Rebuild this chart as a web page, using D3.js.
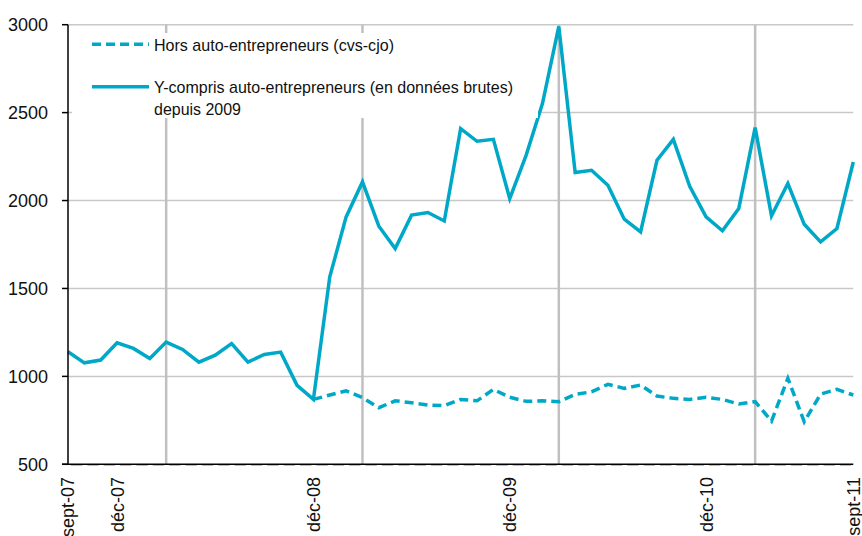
<!DOCTYPE html>
<html>
<head>
<meta charset="utf-8">
<script src="https://cdn.jsdelivr.net/npm/d3@7"></script>
<style>
  body { margin: 0; background: #fff; }
  svg { display: block; font-family: "Liberation Sans", Arial, sans-serif; }
</style>
</head>
<body>
<div id="chart"></div>
<script>
// month labels, sept-07 .. sept-11
const monthNames = ["janv", "févr", "mars", "avr", "mai", "juin", "juil", "août", "sept", "oct", "nov", "déc"]
let months = []
for (let k = 8; k <= 8 + 48; k++) {
    months.push(monthNames[k % 12] + "-" + String(7 + Math.floor(k / 12)).padStart(2, "0"))
}

const shownLabels = ["sept-07", "déc-07", "déc-08", "déc-09", "déc-10", "sept-11"]
const gridMonths = ["mars-08", "mars-09", "mars-10", "mars-11"]
const yTicks = [500, 1000, 1500, 2000, 2500, 3000]

// Y-compris auto-entrepreneurs (en données brutes) depuis 2009
const ycompris = [1140, 1077, 1093, 1191, 1159, 1102, 1195, 1153, 1081, 1121, 1187, 1081,
    1125, 1138, 949, 869, 1566, 1907, 2106, 1854, 1727, 1917, 1932, 1884,
    2409, 2337, 2348, 2011, 2257, 2551, 2990, 2159, 2172, 2087, 1894, 1822,
    2229, 2348, 2081, 1907, 1828, 1955, 2415, 1913, 2097, 1865, 1765, 1841, 2219]

// Hors auto-entrepreneurs (cvs-cjo), visible from déc-08
const hors = [null, null, null, null, null, null, null, null, null, null, null, null,
    null, null, null, 869, 894, 918, 879, 822, 861, 850, 837, 833,
    869, 861, 926, 881, 858, 861, 856, 898, 912, 955, 932, 951,
    888, 875, 869, 881, 869, 843, 856, 746, 989, 742, 899, 926, 894]

const legendItems = ["Hors auto-entrepreneurs (cvs-cjo)", "Y-compris auto-entrepreneurs (en données brutes)", "depuis 2009"]

const W = 862, H = 536
const lineColor = "#00a8c8"

let svg = d3.select("#chart").append("svg")
    .attr("width", W)
    .attr("height", H)

let x = d3.scalePoint().domain(months).range([68, 853.3])
let y = d3.scaleLinear().domain([500, 3000]).range([464.3, 24.7])

// horizontal gridlines
svg.selectAll("line.hgrid")
    .data(yTicks.filter(d => d > 500))
    .enter()
    .append("line")
    .attr("class", "hgrid")
    .attr("x1", x.range()[0]).attr("x2", x.range()[1])
    .attr("y1", d => y(d)).attr("y2", d => y(d))
    .attr("stroke", "#c8c8c8")
    .attr("stroke-width", 1.5)

// vertical gridlines
svg.selectAll("line.vgrid")
    .data(gridMonths)
    .enter()
    .append("line")
    .attr("class", "vgrid")
    .attr("x1", d => x(d)).attr("x2", d => x(d))
    .attr("y1", y(3000)).attr("y2", y(500))
    .attr("stroke", "#c0c0c0")
    .attr("stroke-width", 2.5)

// lines
let line = d3.line()
    .defined(d => d[1] != null)
    .x(d => x(d[0]))
    .y(d => y(d[1]))

svg.append("path")
    .datum(months.map((m, i) => [m, hors[i]]))
    .attr("d", line)
    .attr("fill", "none")
    .attr("stroke", lineColor)
    .attr("stroke-width", 3.5)
    .attr("stroke-dasharray", "9,5")

svg.append("path")
    .datum(months.map((m, i) => [m, ycompris[i]]))
    .attr("d", line)
    .attr("fill", "none")
    .attr("stroke", lineColor)
    .attr("stroke-width", 3.5)
    .attr("stroke-linejoin", "miter")

// legend box (white, sits over the plot)
svg.append("rect")
    .attr("x", 72).attr("y", 33)
    .attr("width", 466).attr("height", 85)
    .attr("fill", "#fff")

svg.append("line")
    .attr("x1", 92).attr("x2", 149).attr("y1", 44.3).attr("y2", 44.3)
    .attr("stroke", lineColor).attr("stroke-width", 3.5)
    .attr("stroke-dasharray", "9,5")
svg.append("line")
    .attr("x1", 92).attr("x2", 149).attr("y1", 86.7).attr("y2", 86.7)
    .attr("stroke", lineColor).attr("stroke-width", 3.5)

let legendPos = [[50.5, 240], [93, 359], [115, 87]]
svg.selectAll("text.legend")
    .data(legendItems)
    .enter()
    .append("text")
    .attr("class", "legend")
    .attr("x", 154)
    .attr("y", (d, i) => legendPos[i][0])
    .attr("textLength", (d, i) => legendPos[i][1])
    .attr("lengthAdjust", "spacingAndGlyphs")
    .attr("font-size", 17)
    .attr("fill", "#111")
    .text(d => d)

// x axis month ticks (light)
svg.selectAll("line.mtick")
    .data(months.slice(1))
    .enter()
    .append("line")
    .attr("class", "mtick")
    .attr("x1", d => x(d) - x.step() + 3).attr("x2", d => x(d) - 2)
    .attr("y1", 465.5).attr("y2", 465.5)
    .attr("stroke", "#bbb")
    .attr("stroke-width", 1)

// axes
svg.append("line")
    .attr("x1", 68).attr("x2", 68)
    .attr("y1", y(3000)).attr("y2", y(500))
    .attr("stroke", "#000").attr("stroke-width", 1.5)
svg.append("line")
    .attr("x1", 62).attr("x2", x.range()[1])
    .attr("y1", y(500)).attr("y2", y(500))
    .attr("stroke", "#000").attr("stroke-width", 1.5)

svg.selectAll("line.ytick")
    .data(yTicks)
    .enter()
    .append("line")
    .attr("class", "ytick")
    .attr("x1", 62).attr("x2", 68)
    .attr("y1", d => y(d)).attr("y2", d => y(d))
    .attr("stroke", "#000").attr("stroke-width", 1.5)

svg.selectAll("text.ylabel")
    .data(yTicks)
    .enter()
    .append("text")
    .attr("class", "ylabel")
    .attr("x", 48)
    .attr("y", d => y(d))
    .attr("dy", "0.36em")
    .attr("text-anchor", "end")
    .attr("font-size", 18)
    .attr("fill", "#111")
    .text(d => d)

svg.selectAll("text.xlabel")
    .data(shownLabels)
    .enter()
    .append("text")
    .attr("class", "xlabel")
    .attr("transform", d => "translate(" + x(d) + ",477) rotate(-90)")
    .attr("dy", "0.36em")
    .attr("text-anchor", "end")
    .attr("font-size", 18)
    .attr("fill", "#111")
    .text(d => d)
</script>
</body>
</html>
